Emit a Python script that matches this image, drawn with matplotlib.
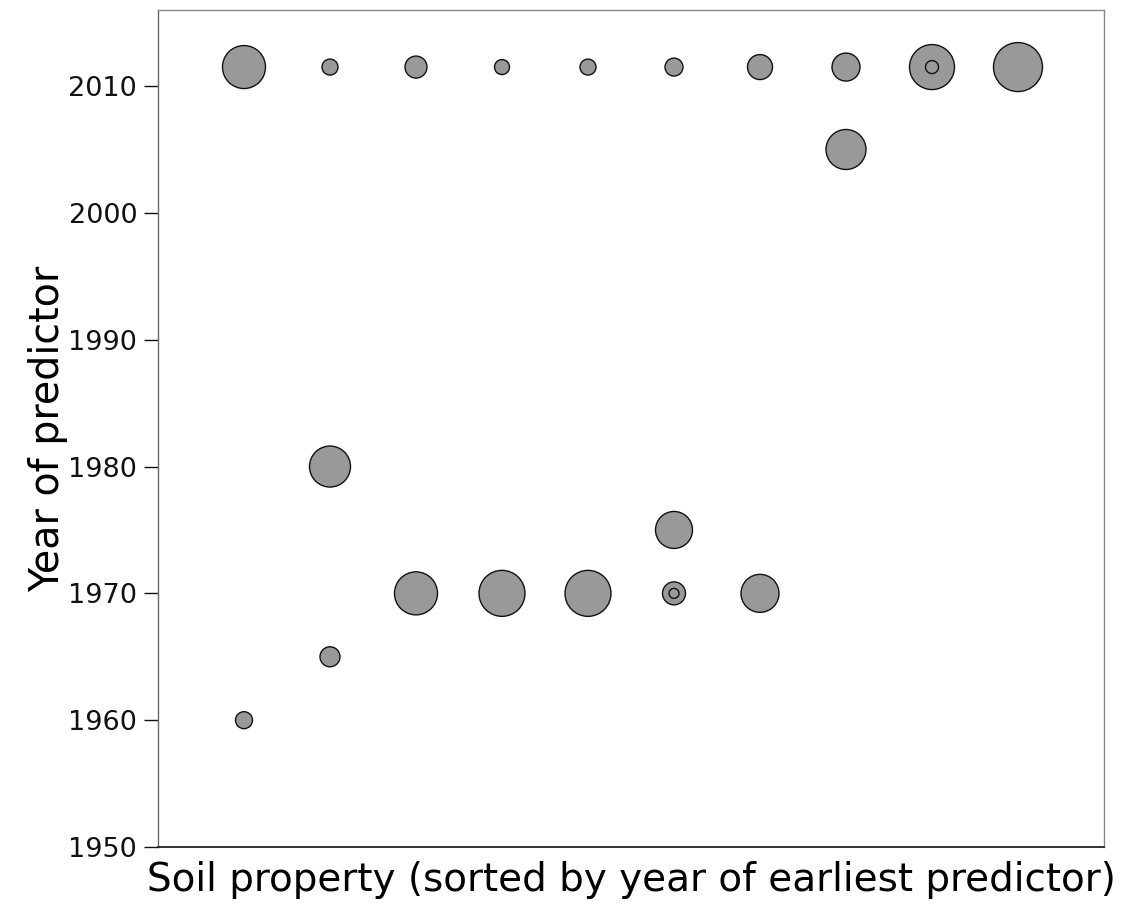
import matplotlib
matplotlib.use("Agg")
import matplotlib.pyplot as plt
import numpy as np

# data: soil property index, year of predictor, bubble diameter (relative size)
prop_idx = [1, 1, 2, 2, 2, 3, 3, 4, 4, 5, 5, 6, 6, 6, 6, 7, 7, 8, 8, 9, 9, 10]
years = [2011.5, 1960, 2011.5, 1980, 1965, 2011.5, 1970, 2011.5, 1970, 2011.5, 1970,
         2011.5, 1975, 1970, 1970, 2011.5, 1970, 2011.5, 2005, 2011.5, 2011.5, 2011.5]
diam = [43, 17, 16, 41, 20, 22, 43, 15, 46, 16, 46,
        18, 37, 23, 10, 25, 38, 28, 40, 45, 13, 49]
ytick_vals = [1950, 1960, 1970, 1980, 1990, 2000, 2010]

fig = plt.figure(figsize=(11.27, 9.06), dpi=100)
ax = fig.add_axes([158/1127, 1-847/906, (1104-158)/1127, (847-10)/906])

order = np.argsort(diam)[::-1]
x = np.array(prop_idx)[order]
y = np.array(years)[order]
d = np.array(diam, dtype=float)[order]
ax.scatter(x, y, s=(d*0.72)**2, facecolor='#999999', edgecolor='#111111',
           linewidths=1.0, zorder=3)

ax.set_xlim(0, 11)
ax.set_ylim(1950, 2016)
ax.set_xticks([])
ax.set_yticks(ytick_vals)
ax.set_yticklabels([str(v) for v in ytick_vals])
ax.tick_params(axis='y', length=10, width=1, pad=5, labelsize=19.5, colors='#111111')

for side in ['top', 'right', 'left']:
    ax.spines[side].set_color('#888888')
    ax.spines[side].set_linewidth(1.0)
ax.spines['left'].set_color('#666666')
ax.spines['bottom'].set_color('#111111')
ax.spines['bottom'].set_linewidth(1.2)

ax.set_xlabel('Soil property (sorted by year of earliest predictor)', fontsize=28, labelpad=10)
ax.set_ylabel('Year of predictor', fontsize=28.5, labelpad=0)

fig.savefig('out.png', dpi=100)
